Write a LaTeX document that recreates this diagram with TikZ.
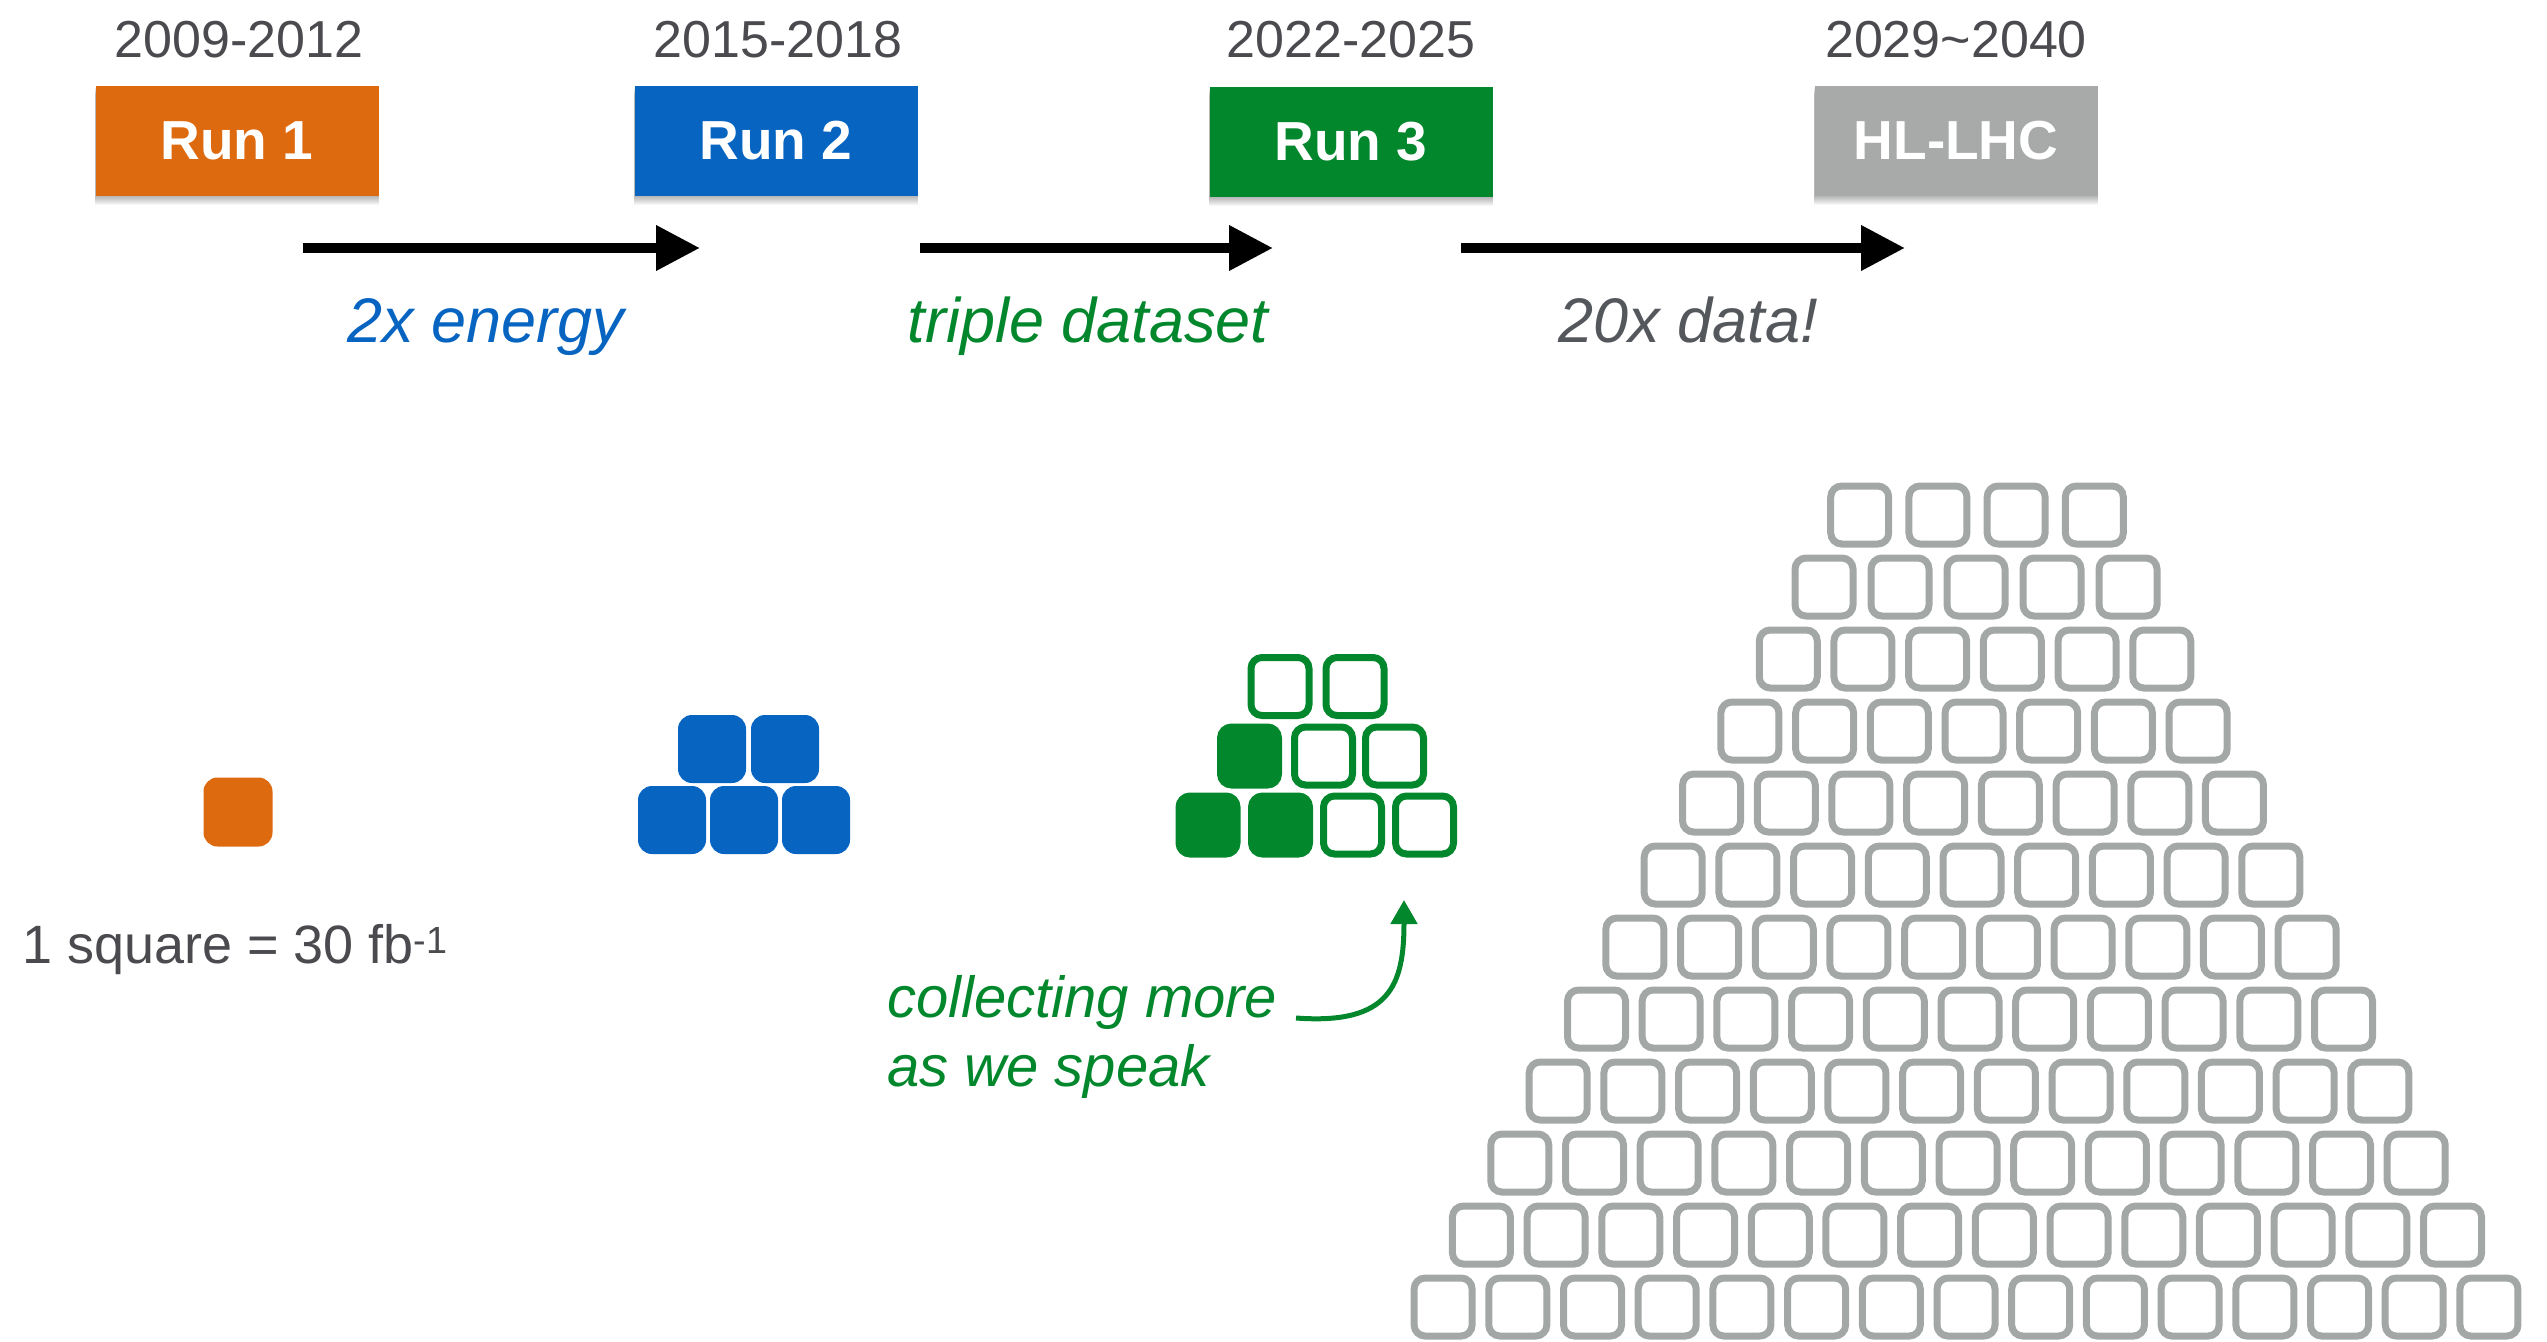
\documentclass[tikz,border=0pt]{standalone}
\usepackage{fontspec}
\setmainfont{Liberation Sans}
\usetikzlibrary{arrows.meta,backgrounds}
\definecolor{runorange}{HTML}{DE6A10}
\definecolor{runblue}{HTML}{0765C1}
\definecolor{rungreen}{HTML}{03872D}
\definecolor{boxgrey}{HTML}{A7AAA9}
\definecolor{sqgrey}{HTML}{A3A8A6}
\definecolor{txtgrey}{HTML}{4A4A4F}
\definecolor{datagrey}{HTML}{54575B}
\begin{document}
\begin{tikzpicture}[x=1pt,y=-1pt,
  runbox/.style={minimum width=283pt, minimum height=110pt, inner sep=0pt,
    text=white, font=\fontsize{55}{60}\selectfont\bfseries},
  yearlbl/.style={anchor=base, inner sep=0pt, text=txtgrey, font=\fontsize{52}{60}\selectfont},
  steplbl/.style={anchor=base, inner sep=0pt, font=\fontsize{63}{70}\selectfont\itshape},
  bigarrow/.style={line width=10pt, -{Triangle[length=44pt,width=43pt]}},
  fillsq/.style={minimum size=#1, inner sep=0pt, rounded corners=14pt},
  gosq/.style={draw=rungreen, line width=7pt, minimum size=58pt, inner sep=0pt, rounded corners=11pt},
  gfsq/.style={gosq, fill=rungreen},
  hsq/.style={draw=sqgrey, line width=7pt, minimum size=58pt, inner sep=0pt, rounded corners=11pt}
]
\useasboundingbox (0,0) rectangle (2547,1341);

% run boxes
\node[runbox, fill=runorange] (r1) at (237,141) {Run 1};
\node[runbox, fill=runblue]   (r2) at (776,141) {Run 2};
\node[runbox, fill=rungreen]  (r3) at (1351,142) {Run 3};
\node[runbox, fill=boxgrey]   (r4) at (1956,141) {HL-LHC};
\begin{scope}[on background layer]
  \foreach \b in {r1,r2,r3,r4}{
    \foreach \k in {1,...,9}{
      \fill[black, opacity=0.035]
        ([xshift=-0.5pt, yshift=-\k pt]\b.south west) rectangle ([xshift=0.5pt, yshift=-\k pt]\b.north east);
    }
  }
\end{scope}

% years
\node[yearlbl] (y1) at (239,57) {2009-2012};
\node[yearlbl] (y2) at (778,57) {2015-2018};
\node[yearlbl] (y3) at (1351,57) {2022-2025};
\node[yearlbl] (y4) at (1956,57) {2029\textasciitilde2040};

% arrows
\coordinate (a1s) at (303,248);  \coordinate (a1e) at (700,248);
\coordinate (a2s) at (920,248);  \coordinate (a2e) at (1273,248);
\coordinate (a3s) at (1461,248); \coordinate (a3e) at (1905,248);
\draw[bigarrow] (a1s) -- (a1e);
\draw[bigarrow] (a2s) -- (a2e);
\draw[bigarrow] (a3s) -- (a3e);

% step labels
\node[steplbl, text=runblue]  (l1) at (486,342) {2x energy};
\node[steplbl, text=rungreen] (l2) at (1088,342) {triple dataset};
\node[steplbl, text=datagrey] (l3) at (1688,342) {20x data!};

% run 1 square
\node[fillsq=69pt, fill=runorange] (o1) at (238,812) {};
\node[anchor=base west, inner sep=0pt, text=txtgrey, font=\fontsize{54}{60}\selectfont] (unit) at (22,963) {1 square = 30 fb\textsuperscript{-1}};

% run 2 squares
\node[fillsq=68pt, fill=runblue] (b1) at (672,820) {};
\node[fillsq=68pt, fill=runblue] (b2) at (744,820) {};
\node[fillsq=68pt, fill=runblue] (b3) at (816,820) {};
\node[fillsq=68pt, fill=runblue] (b4) at (712,749) {};
\node[fillsq=68pt, fill=runblue] (b5) at (785,749) {};

% run 3 squares
\node[gfsq] (g1) at (1208,825) {};
\node[gfsq] (g2) at (1280.5,825) {};
\node[gosq] (g3) at (1352.5,825) {};
\node[gosq] (g4) at (1424.5,825) {};
\node[gfsq] (g5) at (1249.5,756) {};
\node[gosq] (g6) at (1323.5,756) {};
\node[gosq] (g7) at (1394.5,756) {};
\node[gosq] (g8) at (1280,686.5) {};
\node[gosq] (g9) at (1355,686.5) {};

% collecting more
\node[anchor=base west, inner sep=0pt, text=rungreen,
      font=\fontsize{58}{69}\selectfont\itshape] (coll1) at (887,1017) {collecting more};
\node[anchor=base west, inner sep=0pt, text=rungreen,
      font=\fontsize{58}{69}\selectfont\itshape] (coll2) at (887,1086) {as we speak};
\coordinate (gas) at (1296,1018);
\coordinate (gae) at (1404,900);
\draw[rungreen, line width=5pt, -{Triangle[length=24pt,width=26pt]}]
  (gas) .. controls (1390,1025) and (1404,985) .. (gae);

% HL-LHC pyramid
\foreach \r in {0,...,11}{
  \pgfmathtruncatemacro{\n}{\r+4}
  \pgfmathtruncatemacro{\last}{\n-1}
  \pgfmathsetmacro{\cy}{515+72*\r}
  \pgfmathsetmacro{\mid}{1977-1.0*\r}
  \pgfmathsetmacro{\pitch}{74.7+3.5*(\r==0)+1.3*(\r==1)}
  \foreach \c in {0,...,\last}{
    \pgfmathsetmacro{\cx}{\mid+(\c-(\n-1)/2)*\pitch}
    \node[hsq] (h\r-\c) at (\cx,\cy) {};
  }
}
\end{tikzpicture}
\end{document}
